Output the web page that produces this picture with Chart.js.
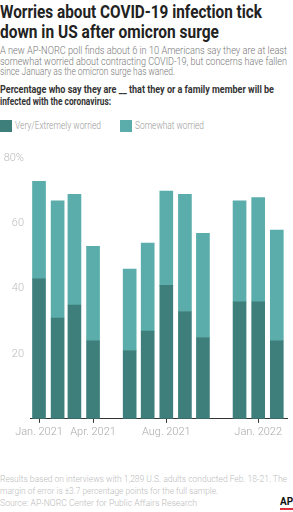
<!DOCTYPE html>
<html>
<head>
<meta charset="utf-8">
<script src="https://cdn.jsdelivr.net/npm/chart.js@4"></script>
<style>
  body { margin: 0; width: 293px; height: 512px; background: #fff; font-family: Roboto, "Liberation Sans", sans-serif; position: relative; overflow: hidden; }
  .blk { position: absolute; left: 0; }
  .ln { display: block; white-space: nowrap; }
  h1 { margin: 0; top: 2px; font-size: 18px; line-height: 20px; font-weight: 700; color: #222; }
  .sub { top: 46px; font-size: 10px; line-height: 10.7px; color: #777; font-weight: 300; }
  .q { top: 84px; font-size: 10px; line-height: 11.7px; color: #333; font-weight: 700; }
  .legend { position: absolute; top: 120px; left: 0; font-size: 10.5px; color: #999; font-weight: 300; }
  .legend > span { position: absolute; white-space: nowrap; top: 0; line-height: 12px; }
  .legend i { position: absolute; top: 0; width: 12px; height: 12px; }
  .chartbox { position: absolute; left: 0; top: 146px; width: 293px; height: 296px; }
  .foot { top: 473px; font-size: 9.5px; line-height: 12px; color: #bbb; font-weight: 300; }
  .ap { position: absolute; left: 280px; top: 497px; font-size: 10px; font-weight: 700; color: #111; border-bottom: 2px solid #e0313f; line-height: 10px; padding-bottom: 1px; }
</style>
</head>
<body>
<h1 class="blk">
  <span class="ln"><span data-w="262">Worries about COVID-19 infection tick</span></span>
  <span class="ln"><span data-w="219">down in US after omicron surge</span></span>
</h1>
<div class="blk sub">
  <span class="ln"><span data-w="287">A new AP-NORC poll finds about 6 in 10 Americans say they are at least</span></span>
  <span class="ln"><span data-w="287">somewhat worried about contracting COVID-19, but concerns have fallen</span></span>
  <span class="ln"><span data-w="175">since January as the omicron surge has waned.</span></span>
</div>
<div class="blk q">
  <span class="ln"><span data-w="274">Percentage who say they are __ that they or a family member will be</span></span>
  <span class="ln"><span data-w="111">infected with the coronavirus:</span></span>
</div>
<div class="legend">
  <i style="left:0;background:#3e7f7b"></i>
  <span style="left:15px"><span data-w="86">Very/Extremely worried</span></span>
  <i style="left:120px;background:#5aadaa"></i>
  <span style="left:135px"><span data-w="69">Somewhat worried</span></span>
</div>
<div class="chartbox"><canvas id="worryChart"></canvas></div>
<div class="blk foot">
  <span class="ln"><span data-w="287">Results based on interviews with 1,289 U.S. adults conducted Feb. 18-21. The</span></span>
  <span class="ln"><span data-w="218">margin of error is ±3.7 percentage points for the full sample.</span></span>
  <span class="ln"><span data-w="197">Source: AP-NORC Center for Public Affairs Research</span></span>
</div>
<div class="ap">AP</div>
<script>
const surveyMonths = ["2021-01", "2021-02", "2021-03", "2021-04", "2021-06", "2021-07", "2021-08", "2021-09", "2021-10", "2021-12", "2022-01", "2022-02"];
const veryWorried = [43, 31, 35, 24, 21, 27, 41, 33, 25, 36, 36, 24];
const somewhatWorried = [30, 36, 34, 29, 25, 27, 29, 36, 32, 31, 32, 34];
const tickMonths = ["2021-01", "2021-04", "2021-08", "2022-01"];
const tickLabels = ["Jan. 2021", "Apr. 2021", "Aug. 2021", "Jan. 2022"];
const yTicks = [20, 40, 60, 80];

// squeeze each text line to the width it has in the original
document.querySelectorAll("[data-w]").forEach((el) => {
  el.style.display = "inline-block";
  el.style.transformOrigin = "left center";
  const w = el.getBoundingClientRect().width;
  el.style.transform = "scaleX(" + parseFloat(el.dataset.w) / w + ")";
});

function dayOf(ym) {
  const [y, m] = ym.split("-").map(Number);
  return (Date.UTC(y, m - 1, 1) - Date.UTC(2021, 0, 1)) / 86400000;
}

const days = surveyMonths.map(dayOf);
const tickDays = tickMonths.map(dayOf);

const ctx = document.getElementById("worryChart").getContext("2d");
new Chart(ctx, {
  type: "bar",
  data: {
    datasets: [
      {
        label: "Very/Extremely worried",
        data: days.map((d, i) => ({ x: d, y: veryWorried[i] })),
        backgroundColor: "#3e7f7b",
        barThickness: 13,
      },
      {
        label: "Somewhat worried",
        data: days.map((d, i) => ({ x: d, y: somewhatWorried[i] })),
        backgroundColor: "#5aadaa",
        barThickness: 13,
      },
    ],
  },
  options: {
    responsive: true,
    maintainAspectRatio: false,
    animation: false,
    layout: { padding: { top: 12, right: 6, left: 0, bottom: 0 } },
    plugins: { legend: { display: false }, tooltip: { enabled: false } },
    scales: {
      x: {
        type: "linear",
        stacked: true,
        offset: false,
        min: -15,
        max: 413,
        afterBuildTicks: (axis) => {
          axis.ticks = tickDays.map((v) => ({ value: v }));
        },
        afterFit: (axis) => {
          axis.paddingLeft = 0;
          axis.paddingRight = 0;
        },
        ticks: {
          color: "#aaa",
          font: { family: "Roboto", size: 11, weight: 300 },
          padding: 3,
          maxRotation: 0,
          autoSkip: false,
          callback: (v) => {
            const i = tickDays.indexOf(v);
            return i >= 0 ? tickLabels[i] : "";
          },
        },
        grid: { drawOnChartArea: false, offset: false, tickLength: 4, color: "#333" },
        border: { color: "#333" },
      },
      y: {
        stacked: true,
        min: 0,
        max: 80,
        afterBuildTicks: (axis) => {
          axis.ticks = yTicks.map((v) => ({ value: v }));
        },
        afterFit: (axis) => {
          axis.width = 30;
        },
        ticks: {
          color: "#bbb",
          font: { family: "Roboto", size: 11, weight: 300 },
          padding: 6,
          callback: (v) => (v === 80 ? "80%" : v),
        },
        grid: { display: false, drawTicks: false },
        border: { display: false },
      },
    },
  },
});
</script>
</body>
</html>
